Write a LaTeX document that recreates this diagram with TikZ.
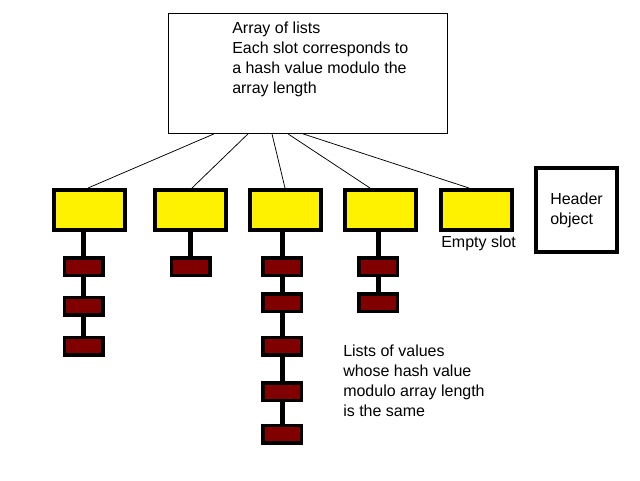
\documentclass[tikz,border=0pt]{standalone}
\usepackage{fontspec}
\setmainfont{Liberation Sans}
\newdimen\pxu \pxu=0.75pt
\definecolor{itemred}{RGB}{128,0,0}
\begin{document}
\begin{tikzpicture}[x=0.75pt,y=-0.75pt,
  slot/.style={draw=black,line width=4\pxu,fill=yellow,minimum width=71\pxu,minimum height=40\pxu,inner sep=0pt},
  item/.style={draw=black,line width=3.5\pxu,fill=itemred,minimum width=38.5\pxu,minimum height=17.5\pxu,inner sep=0pt},
  link/.style={draw=black,line width=0.75\pxu},
  chain/.style={draw=black,line width=5\pxu},
  lbl/.style={font=\fontsize{12}{15}\selectfont,align=left,inner sep=0pt,anchor=north west}]
\useasboundingbox[fill=white] (0,0) rectangle (640,480);

% array box
\node[draw=black,line width=0.75\pxu,minimum width=279\pxu,minimum height=120\pxu,inner sep=0pt] (top) at (308,73.5) {};
\node[lbl] (toptext) at (232,21.5) {Array of lists\\Each slot corresponds to\\a hash value modulo the\\array length};

% slots
\node[slot] (y1) at (89.5,210) {};
\node[slot] (y2) at (190,210) {};
\node[slot] (y3) at (285,210) {};
\node[slot] (y4) at (380,210) {};
\node[slot] (y5) at (476,210) {};

% header
\node[draw=black,line width=4\pxu,minimum width=81\pxu,minimum height=84\pxu,inner sep=0pt,align=left,font=\fontsize{12}{15}\selectfont] (hdr) at (576.5,210) {Header\\object};

\node[lbl] (empty) at (441,235.5) {Empty slot};
\node[lbl] (lists) at (343,344.5) {Lists of values\\whose hash value\\modulo array length\\is the same};

% links from array to slots
\draw[link] ([xshift=-94\pxu]top.south) -- ([xshift=-1.5\pxu]y1.north);
\draw[link] ([xshift=-60\pxu]top.south) -- ([xshift=2\pxu]y2.north);
\draw[link] ([xshift=-36\pxu]top.south) -- (y3.north);
\draw[link] ([xshift=-20\pxu]top.south) -- ([xshift=-10\pxu]y4.north);
\draw[link] ([xshift=-5\pxu]top.south) -- ([xshift=-7\pxu]y5.north);

% list items
\node[item] (r11) at (83.5,266.5) {};
\node[item] (r12) at (83.5,306) {};
\node[item] (r13) at (83.5,346) {};
\node[item] (r21) at (190.5,266.5) {};
\node[item] (r31) at (282,266.5) {};
\node[item] (r32) at (282,302.5) {};
\node[item] (r33) at (282,346) {};
\node[item] (r34) at (282,391.5) {};
\node[item] (r35) at (282,434) {};
\node[item] (r41) at (378,266.5) {};
\node[item] (r42) at (378,302.5) {};

% chains
\draw[chain] (r11.north |- y1.south) -- (r11.north);
\draw[chain] (r11.south) -- (r12.north);
\draw[chain] (r12.south) -- (r13.north);
\draw[chain] (r21.north |- y2.south) -- (r21.north);
\draw[chain] (r31.north |- y3.south) -- (r31.north);
\draw[chain] (r31.south) -- (r32.north);
\draw[chain] (r32.south) -- (r33.north);
\draw[chain] (r33.south) -- (r34.north);
\draw[chain] (r34.south) -- (r35.north);
\draw[chain] (r41.north |- y4.south) -- (r41.north);
\draw[chain] (r41.south) -- (r42.north);
\end{tikzpicture}
\end{document}
